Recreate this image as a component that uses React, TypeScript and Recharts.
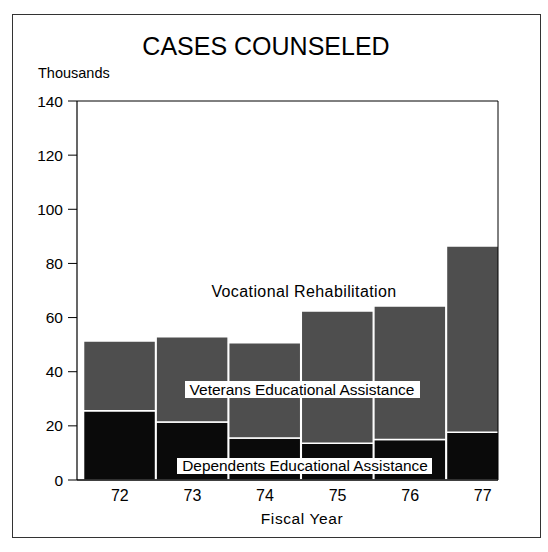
import { Bar, BarChart, ReferenceLine, XAxis, YAxis } from "recharts";

const years = [72, 73, 74, 75, 76, 77];
const dependents = [25.6, 21.4, 15.5, 13.6, 15.0, 17.6];
const veterans = [25.7, 31.5, 35.2, 48.8, 49.3, 68.8];
const yTicks = [0, 20, 40, 60, 80, 100, 120, 140];

const data = years.map((year, i) => ({ year, dependents: dependents[i], veterans: veterans[i] }));

const font = "'Liberation Sans', Arial, sans-serif";
const xMin = 71.41;
const xMax = 77.21;

export default function App() {
  return (
    <div style={{ position: "absolute", left: 0, top: 0, width: 548, height: 552, background: "#fff", fontFamily: font }}>
      <div style={{ position: "absolute", left: 12, top: 14, width: 527, height: 522, border: "1px solid #333" }} />
      <BarChart
        width={548}
        height={552}
        data={data}
        margin={{ top: 101, right: 50, bottom: 42, left: 0 }}
        style={{ position: "absolute", left: 0, top: 0 }}
      >
        <XAxis
          dataKey="year"
          type="number"
          domain={[xMin, xMax]}
          allowDataOverflow
          ticks={years}
          tickLine={false}
          tickMargin={4}
          height={30}
          axisLine={{ stroke: "#000", strokeWidth: 1.5 }}
          tick={{ fill: "#000", fontSize: 16, fontFamily: font }}
        />
        <YAxis
          domain={[0, 140]}
          ticks={yTicks}
          width={77}
          tickSize={9}
          tickMargin={5}
          axisLine={{ stroke: "#000", strokeWidth: 1.2 }}
          tickLine={{ stroke: "#000" }}
          tick={{ fill: "#000", fontSize: 15.5, fontFamily: font }}
        />
        <Bar dataKey="dependents" stackId="a" fill="#0a0a0a" stroke="#fff" strokeWidth={1.5} barSize={72} isAnimationActive={false} />
        <Bar dataKey="veterans" stackId="a" fill="#4e4e4e" stroke="#fff" strokeWidth={1.5} barSize={72} isAnimationActive={false} />
        <ReferenceLine y={140} stroke="#000" strokeWidth={1} />
        <ReferenceLine x={xMax} stroke="#000" strokeWidth={1} />
      </BarChart>
      <svg width={548} height={552} style={{ position: "absolute", left: 0, top: 0, pointerEvents: "none" }}>
        <g fontFamily={font} fill="#000">
          <text x={266} y={55} fontSize={25} textAnchor="middle">CASES COUNSELED</text>
          <text x={38} y={78} fontSize={14.5}>Thousands</text>
          <text x={302} y={524} fontSize={15.5} letterSpacing={0.6} textAnchor="middle">Fiscal Year</text>
          <text x={304} y={297} fontSize={16} letterSpacing={0.4} textAnchor="middle">Vocational Rehabilitation</text>
          <rect x={185} y={381} width={235} height={17} fill="#fff" />
          <text x={302} y={395} fontSize={15.5} textAnchor="middle">Veterans Educational Assistance</text>
          <rect x={177} y={458} width={255} height={16} fill="#fff" />
          <text x={305} y={471} fontSize={15.4} textAnchor="middle">Dependents Educational Assistance</text>
        </g>
      </svg>
    </div>
  );
}
